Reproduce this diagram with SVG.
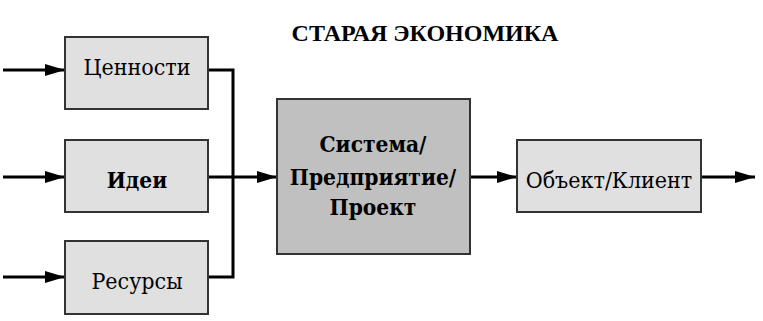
<svg xmlns="http://www.w3.org/2000/svg" width="763" height="321" viewBox="0 0 763 321">
<defs>
<marker id="ah" markerWidth="20" markerHeight="12" refX="20" refY="6" orient="auto" markerUnits="userSpaceOnUse">
<path d="M0,0 L20,6 L0,12 Z" fill="#000"/>
</marker>
<style>
.box{fill:#e0e0e0;stroke:#333;stroke-width:2}
.main{fill:#c0c0c0;stroke:#333;stroke-width:2}
.t{font-family:"DejaVu Serif Condensed","DejaVu Serif",serif;font-stretch:condensed;font-size:23px;fill:#000;text-anchor:middle}
.b{font-weight:bold;font-size:22.5px}
.c{fill:none;stroke:#000;stroke-width:3}
.title{font-family:"Liberation Serif",serif;font-size:24px;font-weight:bold;text-anchor:middle}
</style>
</defs>
<rect width="763" height="321" fill="#fff"/>
<text class="title" x="425" y="41">СТАРАЯ ЭКОНОМИКА</text>
<g id="connectors">
<path class="c" d="M3,70 H65" marker-end="url(#ah)"/>
<path class="c" d="M3,177 H65" marker-end="url(#ah)"/>
<path class="c" d="M3,277 H65" marker-end="url(#ah)"/>
<path class="c" d="M208,70 H233 V277 H208"/>
<path class="c" d="M208,177 H277" marker-end="url(#ah)"/>
<path class="c" d="M470,177 H517" marker-end="url(#ah)"/>
<path class="c" d="M701,177 H755" marker-end="url(#ah)"/>
</g>
<g id="values"><rect class="box" x="65" y="37" width="143" height="72"/><text class="t" x="137" y="75">Ценности</text></g>
<g id="ideas"><rect class="box" x="65" y="140" width="143" height="72"/><text class="t b" x="137" y="188">Идеи</text></g>
<g id="resources"><rect class="box" x="65" y="241" width="143" height="73"/><text class="t" x="137" y="289">Ресурсы</text></g>
<g id="system"><rect class="main" x="277" y="99" width="193" height="155"/>
<text class="t b" x="373" y="152">Система/</text>
<text class="t b" x="373" y="185">Предприятие/</text>
<text class="t b" x="373" y="215">Проект</text></g>
<g id="client"><rect class="box" x="517" y="140" width="184" height="72"/><text class="t" x="609" y="188">Объект/Клиент</text></g>
</svg>
